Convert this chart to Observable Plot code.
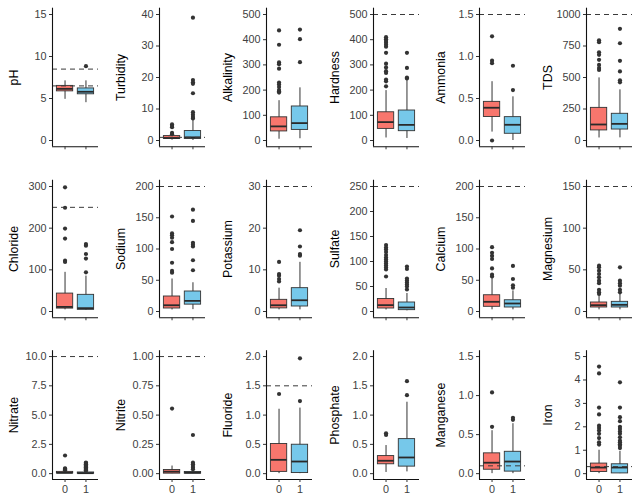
<!DOCTYPE html>
<html><head><meta charset="utf-8">
<script src="https://cdn.jsdelivr.net/npm/d3@7"></script>
<script src="https://cdn.jsdelivr.net/npm/@observablehq/plot@0.6"></script>
<style>
body{margin:0;background:#fff}
#chart{position:relative;width:641px;height:500px;background:#fff}
</style>
</head><body><div id="chart"></div>
<script>
const vars = ["pH","Turbidity","Alkalinity","Hardness","Ammonia","TDS","Chloride","Sodium","Potassium","Sulfate","Calcium","Magnesium","Nitrate","Nitrite","Fluoride","Phosphate","Manganese","Iron"];
const groups = ["0","1"];
const yTop = [15,40,500,500,1.5,1000,300,200,30,250,200,150,10,1,2,2,1.5,5];
const tickLabels = [
  ["0","5","10","15"],["0","10","20","30","40"],["0","100","200","300","400","500"],["0","100","200","300","400","500"],
  ["0.0","0.5","1.0","1.5"],["0","250","500","750","1000"],
  ["0","100","200","300"],["0","50","100","150","200"],["0","10","20","30"],["0","50","100","150","200","250"],
  ["0","50","100","150","200"],["0","50","100","150"],
  ["0.0","2.5","5.0","7.5","10.0"],["0.00","0.25","0.50","0.75","1.00"],["0.0","0.5","1.0","1.5","2.0"],
  ["0.0","0.5","1.0","1.5","2.0"],["0.0","0.5","1.0","1.5"],["0","1","2","3","4","5"]
];
const thresholds = [[8.5,6.5],[1],[],[500],[1.5],[1000],[250],[200],[30],[250],[200],[150],[10],[1],[1.5],[],[0.1],[0.3]];

// group 0
const lower0 = [4.9,0.1,5,10,0.1,20,4,2.5,0.4,3,2.7,2,0,0,0,0.02,0,0];
const q1_0   = [5.85,0.5,36,46,0.28,80,7,4.8,0.75,6,7.5,4.8,0.02,0,0.03,0.16,0.05,0.07];
const med0   = [6.15,0.8,56,73,0.39,127,11,10,1.5,12.7,15.5,7.6,0.07,0.017,0.236,0.22,0.14,0.26];
const q3_0   = [6.5,1.4,92,112,0.46,259,43,24,2.8,25,26,10.8,0.15,0.031,0.506,0.3,0.26,0.43];
const upper0 = [7.1,1.8,158,198,0.7,497,94,52,5.6,46,54,19,0.25,0.065,1.1,0.48,0.55,1.0];
// group 1
const lower1 = [4.5,0,7,8,0,21,3,3,0.4,1.3,2.7,2,0,0,0,0.03,0,0];
const q1_1   = [5.5,0.5,42,37,0.08,87,4,11,1.2,2.7,6.4,4.8,0,0,0.01,0.12,0.026,0.01];
const med1   = [5.8,1.0,69,62,0.187,132,8,17,2.7,8,12.8,8,0.04,0.008,0.207,0.276,0.155,0.26];
const q3_1   = [6.2,3.0,135,119,0.278,212,40,32,5.6,18,18,11.6,0.1,0.014,0.494,0.59,0.28,0.4];
const upper1 = [7.1,6.5,209,240,0.52,402,85,46,11.8,36,33,21,0.2,0.03,1.12,1.22,0.64,0.95];

const outliers0 = [
  [],[5.1,4.6,4.2,2.4,2.0],[437,380,310,303,285,230,222,212,200,195,190],
  [410,402,395,388,380,372,348,305,290,275,268,242,235,215],[1.24,0.95,0.92,0.0],[795,780,700,680,640,600,575,560],
  [298,249,199,175,122,119],[152,125,122,118,111,100,78,65,62],[11.9,9.0,8.6,7.8,7.2],
  [133,128,124,119,113,108,104,100,96,92,88,84,70],[103,94,89,84,69,59,56],[55,53,49,45,41,37,34,26,23,21],
  [1.55,0.45,0.4,0.35,0.3],[0.556],[1.36],[0.69,0.66],[1.04,0.6],
  [4.57,4.28,2.82,2.53,2.05,1.95,1.84,1.7,1.52,1.34,1.24]
];
const outliers1 = [
  [8.85],[39,19.2,18.5,18,15,9.0,8.2,7.5,7.0],[440,402,311],[348,288,250,246],[0.89,0.60],[886,772,632,548,478,462],
  [162,158,138,127,94],[163,145,110,107,104,82,66],[19.5,15.6,13.8,13.4],[90,85,66,62,58,54,50,44],[73,52,42,38],[53,37,34,31,26,23],
  [0.95,0.9,0.85,0.8,0.75,0.7,0.65,0.6,0.55,0.5,0.45,0.4,0.35,0.3,0.25],[0.33,0.094,0.08,0.065,0.05,0.037],[1.97,1.24],[1.58,1.34],[0.715,0.69],
  [3.9,2.82,2.41,2.24,2.0,1.91,1.8,1.7,1.55,1.41,1.34,1.26,1.19,1.09]
];

const fills = ["#F8766D","#76C8EA"];
const FONT = "'Liberation Sans', Arial, Helvetica, sans-serif";
const rowTop = [0,166,332], rowH = [166,166,168];
const plotTop = [7.7,179.75,350.2], plotBot = [146.3,317.25,479];
const chart = document.getElementById("chart");
const hw = 0.39;

vars.forEach((name, i) => {
  const row = Math.floor(i / 6), col = i % 6;
  const left = Math.round(col * 641 / 6);
  const w = Math.round((col + 1) * 641 / 6) - left;
  const top = yTop[i];
  const boxes = groups.map((g, j) => ({
    pos: j + 1, g,
    lo: j ? lower1[i] : lower0[i],
    q1: j ? q1_1[i] : q1_0[i],
    med: j ? med1[i] : med0[i],
    q3: j ? q3_1[i] : q3_0[i],
    hi: j ? upper1[i] : upper0[i]
  }));
  const outs = [...outliers0[i].map(v => ({pos: 1, v})), ...outliers1[i].map(v => ({pos: 2, v}))];
  const ticks = tickLabels[i].map(Number);
  const svg = Plot.plot({
    width: w, height: rowH[row],
    marginLeft: 52, marginRight: w - 52 - 46,
    marginTop: plotTop[row] - rowTop[row],
    marginBottom: rowTop[row] + rowH[row] - plotBot[row],
    x: {domain: [0.4, 2.6]},
    y: {domain: [-0.05 * top, 1.05 * top]},
    color: {domain: groups, range: fills},
    style: {fontFamily: FONT, background: "white", overflow: "visible"},
    marks: [
      Plot.ruleX(boxes, {x: "pos", y1: "lo", y2: "hi", stroke: "#333", strokeWidth: 1}),
      Plot.rect(boxes, {x1: d => d.pos - hw, x2: d => d.pos + hw, y1: "q1", y2: "q3", fill: "g", stroke: "#333", strokeWidth: 0.9}),
      Plot.ruleY(boxes, {y: "med", x1: d => d.pos - hw, x2: d => d.pos + hw, stroke: "#2a2a2a", strokeWidth: 1.8}),
      Plot.dot(outs, {x: "pos", y: "v", r: 2.1, fill: "#333", stroke: "none"}),
      Plot.ruleY(thresholds[i], {stroke: "#3a3a3a", strokeDasharray: "5,4", strokeWidth: 1}),
      Plot.ruleY([-0.05 * top], {stroke: "#111", strokeWidth: 1.1}),
      Plot.ruleX([0.4], {stroke: "#111", strokeWidth: 1.1}),
      Plot.axisY({ticks, tickFormat: d => tickLabels[i][ticks.indexOf(d)], tickSize: 3, tickPadding: 3, fontSize: 10.8, label: null, stroke: "#333", fill: "#404040"}),
      Plot.axisX({ticks: [1, 2], tickFormat: d => row === 2 ? groups[d - 1] : "", tickSize: 3, tickPadding: 3, fontSize: 10.8, label: null, stroke: "#333", fill: "#404040"}),
      Plot.text([name], {frameAnchor: "left", dx: -38, rotate: -90, textAnchor: "middle", lineAnchor: "middle", fontSize: 12.4, fill: "#000"})
    ]
  });
  svg.style.position = "absolute";
  svg.style.left = left + "px";
  svg.style.top = rowTop[row] + "px";
  chart.append(svg);
});
</script></body></html>
